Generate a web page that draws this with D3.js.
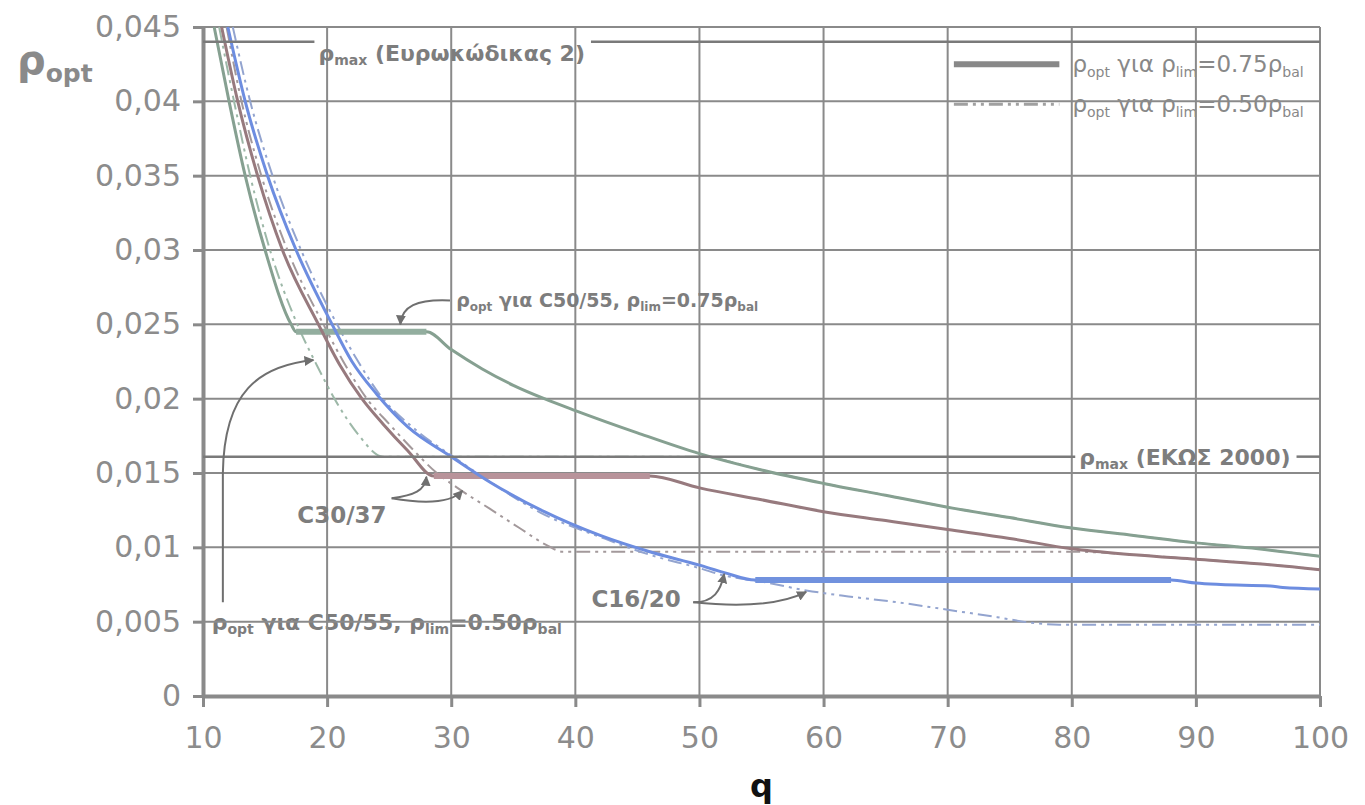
<!DOCTYPE html>
<html>
<head>
<meta charset="utf-8">
<script src="https://cdn.jsdelivr.net/npm/d3@7"></script>
<style>
  body { margin: 0; background: #fff; }
  text { font-family: "DejaVu Sans", Verdana, sans-serif; }
</style>
</head>
<body>
<svg id="chart" width="1365" height="805"></svg>
<script>
  // axis ticks
  const qTicks = [10, 20, 30, 40, 50, 60, 70, 80, 90, 100];
  const rhoTicks = [0, 0.005, 0.01, 0.015, 0.02, 0.025, 0.03, 0.035, 0.04, 0.045];
  const rhoTickLabels = ['0', '0,005', '0,01', '0,015', '0,02', '0,025', '0,03', '0,035', '0,04', '0,045'];

  // reinforcement limits
  const rhoMaxEC2 = 0.044;
  const rhoMaxEKOS = 0.0161;

  // rho_opt for rho_lim = 0.75 rho_bal  [q, rho]
  const c5055_075 = [[10.9, 0.045], [12.1, 0.040], [13.4, 0.035], [15.0, 0.030], [17.1, 0.025], [17.5, 0.0245],
    [28.0, 0.0245], [30, 0.0233], [32.5, 0.0220], [35, 0.0209], [37.5, 0.0200], [40, 0.0192], [45, 0.0177],
    [50, 0.0163], [55, 0.0152], [60, 0.0143], [65, 0.0135], [70, 0.0127], [75, 0.0120], [80, 0.0113],
    [85, 0.0108], [90, 0.0103], [95, 0.0099], [100, 0.0094]];
  const c3037_075 = [[11.5, 0.045], [12.8, 0.040], [14.4, 0.035], [16.4, 0.030], [19.3, 0.025], [21, 0.0223],
    [22.8, 0.0200], [24.5, 0.0183], [26.5, 0.0165], [28.6, 0.0148], [46, 0.0148], [50, 0.0140], [55, 0.0132],
    [60, 0.0124], [65, 0.0118], [70, 0.0112], [75, 0.0106], [80, 0.0099], [85, 0.0095], [90, 0.0092],
    [95, 0.0089], [100, 0.0085]];
  const c1620_075 = [[12.0, 0.045], [13.4, 0.040], [15.2, 0.035], [17.5, 0.030], [20.4, 0.025], [22, 0.0225],
    [24, 0.0203], [26.5, 0.0181], [30, 0.0161], [33.1, 0.0144], [37.5, 0.0124], [42, 0.0108], [46, 0.0097],
    [50, 0.0088], [52, 0.0083], [54.5, 0.0078], [88, 0.0078], [90, 0.0076], [92, 0.0075], [96, 0.0074],
    [97, 0.0073], [100, 0.0072]];

  // rho_opt for rho_lim = 0.50 rho_bal  [q, rho]
  const c5055_050 = [[11.3, 0.045], [12.5, 0.040], [13.8, 0.035], [15.4, 0.030], [17.6, 0.025], [19.2, 0.0222],
    [20.8, 0.0197], [22.5, 0.0176], [24.5, 0.0161], [50, 0.0161], [55, 0.0152], [60, 0.0143], [65, 0.0135],
    [70, 0.0127], [75, 0.0120], [80, 0.0113], [85, 0.0108], [90, 0.0103], [95, 0.0099], [100, 0.0094]];
  const c3037_050 = [[11.9, 0.045], [13.1, 0.040], [14.7, 0.035], [16.8, 0.030], [19.7, 0.025], [21.3, 0.0225],
    [23.2, 0.0200], [25, 0.0183], [27, 0.0165], [28.7, 0.0151], [30.5, 0.0140], [33.1, 0.0126], [35.5, 0.0113],
    [37.8, 0.0101], [39, 0.0097], [80.5, 0.0097], [85, 0.0095], [90, 0.0092], [95, 0.0089], [100, 0.0085]];
  const c1620_050 = [[12.4, 0.045], [13.8, 0.040], [15.6, 0.035], [17.9, 0.030], [20.8, 0.025], [22.5, 0.0225],
    [24.4, 0.0201], [27, 0.0180], [30.5, 0.0159], [33.5, 0.0142], [37.5, 0.0122], [42, 0.0107], [46, 0.0095],
    [50, 0.0086], [52, 0.0081], [55, 0.0077], [58.6, 0.0071], [62, 0.0067], [66, 0.0063], [70, 0.0058],
    [74, 0.0053], [77, 0.0049], [79, 0.0048], [100, 0.0048]];

  const solidSeries = [
    { data: c5055_075, color: '#86a091', flat: '#93ae9f' },
    { data: c3037_075, color: '#977a7e', flat: '#b8939a' },
    { data: c1620_075, color: '#6d8de0', flat: '#7192de' },
  ];
  const dashSeries = [
    { data: c5055_050, color: '#9db8a8' },
    { data: c3037_050, color: '#a3999b' },
    { data: c1620_050, color: '#93a4cf' },
  ];

  const svg = d3.select('#chart');
  const x = d3.scaleLinear().domain([10, 100]).range([203, 1320]);
  const y = d3.scaleLinear().domain([0, 0.045]).range([696, 27]);
  const grey = '#8a8a8a';
  const ink = '#7d7d7d';

  const defs = svg.append('defs');
  defs.append('marker')
    .attr('id', 'arr')
    .attr('viewBox', '0 0 10 10')
    .attr('refX', 9).attr('refY', 5)
    .attr('markerWidth', 5).attr('markerHeight', 5)
    .attr('orient', 'auto')
    .append('path').attr('d', 'M0,0L10,5L0,10z').attr('fill', '#6f6f6f');

  // text with subscripts: parts = [[str, isSub], ...]
  function rich(sel, parts, size, weight) {
    const t = sel.append('text').attr('font-size', size).attr('font-weight', weight || 'normal');
    let shifted = 0;
    parts.forEach(([str, sub]) => {
      const span = t.append('tspan').text(str);
      const want = sub ? Math.round(size * 0.2) : 0;
      if (want !== shifted) { span.attr('dy', want - shifted); shifted = want; }
      if (sub) span.attr('font-size', Math.round(size * 0.62));
    });
    return t;
  }

  // --- things that the grid strikes through go first
  const under = svg.append('g').attr('fill', ink);
  rich(under, [['ρ'], ['opt', true], [' για C50/55, ρ'], ['lim', true], ['=0.50ρ'], ['bal', true]], 22, 'bold')
    .attr('x', x(10.7)).attr('y', y(0.0050) + 8);

  const legend = svg.append('g').attr('fill', '#888');
  legend.append('line')
    .attr('x1', x(70.5)).attr('x2', x(79)).attr('y1', y(0.0425)).attr('y2', y(0.0425))
    .attr('stroke', '#888').attr('stroke-width', 6);
  legend.append('line')
    .attr('x1', x(70.5)).attr('x2', x(79)).attr('y1', y(0.0398)).attr('y2', y(0.0398))
    .attr('stroke', '#a0a0a0').attr('stroke-width', 3).attr('stroke-dasharray', '14,5,3,5,3,5');
  rich(legend, [['ρ'], ['opt', true], [' για ρ'], ['lim', true], ['=0.75ρ'], ['bal', true]], 23)
    .attr('x', x(80.05)).attr('y', y(0.0425) + 8);
  rich(legend, [['ρ'], ['opt', true], [' για ρ'], ['lim', true], ['=0.50ρ'], ['bal', true]], 23)
    .attr('x', x(80.05)).attr('y', y(0.0398) + 8);

  // --- grid
  const grid = svg.append('g').attr('stroke', grey).attr('stroke-width', 2);
  grid.selectAll('line.h').data(rhoTicks.slice(1)).join('line')
    .attr('class', 'h')
    .attr('x1', x(10)).attr('x2', x(100))
    .attr('y1', d => y(d)).attr('y2', d => y(d));
  grid.selectAll('line.v').data(qTicks.slice(1)).join('line')
    .attr('class', 'v')
    .attr('x1', d => x(d)).attr('x2', d => x(d))
    .attr('y1', y(0)).attr('y2', y(0.045));

  // --- axes
  const yAxis = svg.append('g')
    .attr('transform', `translate(${x(10)},0)`)
    .call(d3.axisLeft(y).tickValues(rhoTicks).tickFormat((d, i) => rhoTickLabels[i]).tickSize(10).tickSizeOuter(0).tickPadding(12));
  const xAxis = svg.append('g')
    .attr('transform', `translate(0,${y(0)})`)
    .call(d3.axisBottom(x).tickValues(qTicks).tickSize(11).tickSizeOuter(0).tickPadding(20));
  [xAxis, yAxis].forEach(a => {
    a.select('.domain').attr('stroke', grey).attr('stroke-width', 4);
    a.selectAll('.tick line').attr('stroke', grey).attr('stroke-width', 3);
    a.selectAll('.tick text').attr('fill', '#8c8c8c').attr('font-size', 30)
      .attr('font-family', '"DejaVu Sans", Verdana, sans-serif');
  });

  // --- curves
  const line = d3.line().x(d => x(d[0])).y(d => y(d[1])).curve(d3.curveMonotoneX);
  const curves = svg.append('g').attr('fill', 'none');
  dashSeries.forEach(s => {
    curves.append('path').datum(s.data).attr('d', line)
      .attr('stroke', s.color).attr('stroke-width', 2).attr('stroke-dasharray', '14,5,3,5,3,5');
  });
  solidSeries.forEach(s => {
    curves.append('path').datum(s.data).attr('d', line)
      .attr('stroke', s.color).attr('stroke-width', 3);
    // flat stretch where rho = rho_lim, drawn heavier
    for (let i = 0; i < s.data.length - 1; i++) {
      if (s.data[i][1] === s.data[i + 1][1]) {
        curves.append('path').datum([s.data[i], s.data[i + 1]]).attr('d', line)
          .attr('stroke', s.flat).attr('stroke-width', 6);
      }
    }
  });

  // --- rho_max lines, broken by their labels
  const notes = svg.append('g').attr('fill', ink);
  function maxLine(rho, parts, qText, side) {
    const t = rich(notes, parts, 22, 'bold').attr('x', x(qText)).attr('y', y(rho) + side);
    const bb = t.node().getBBox();
    const segs = [[x(10), bb.x - 4], [bb.x + bb.width + 6, x(100)]];
    segs.forEach(([a, b]) => {
      svg.append('line').attr('x1', a).attr('x2', b).attr('y1', y(rho)).attr('y2', y(rho))
        .attr('stroke', '#7a7a7a').attr('stroke-width', 2.5);
    });
  }
  maxLine(rhoMaxEC2, [['ρ'], ['max', true], [' (Ευρωκώδικας 2)']], 19.3, 19);
  maxLine(rhoMaxEKOS, [['ρ'], ['max', true], [' (ΕΚΩΣ 2000)']], 80.6, 8);

  // --- annotations
  rich(notes, [['ρ'], ['opt', true], [' για C50/55, ρ'], ['lim', true], ['=0.75ρ'], ['bal', true]], 19, 'bold')
    .attr('x', x(30.4)).attr('y', y(0.0266) + 6);
  rich(notes, [['C30/37']], 23, 'bold').attr('x', x(17.6)).attr('y', y(0.0122) + 8);
  rich(notes, [['C16/20']], 23, 'bold').attr('x', x(41.3)).attr('y', y(0.0065) + 8);

  const arrows = [
    [[29.9, 0.0266], [27.2, 0.0267], [26.0, 0.0262], [25.9, 0.0250]],
    [[25.2, 0.0133], [27.0, 0.0135], [27.9, 0.0138], [28.0, 0.01475]],
    [[25.2, 0.0133], [28.0, 0.0129], [30.0, 0.0130], [30.9, 0.0138]],
    [[49.5, 0.0063], [51.2, 0.0063], [51.7, 0.0071], [52.0, 0.0082]],
    [[49.5, 0.0063], [53.0, 0.0060], [56.5, 0.0061], [58.6, 0.0070]],
  ];
  const arrowG = svg.append('g').attr('fill', 'none').attr('stroke', '#6f6f6f').attr('stroke-width', 2);
  arrows.forEach(a => {
    const p = d3.path();
    p.moveTo(x(a[0][0]), y(a[0][1]));
    p.bezierCurveTo(x(a[1][0]), y(a[1][1]), x(a[2][0]), y(a[2][1]), x(a[3][0]), y(a[3][1]));
    arrowG.append('path').attr('d', p.toString()).attr('marker-end', 'url(#arr)');
  });
  // long leader from the 0.50 C50/55 label
  const lead = d3.path();
  lead.moveTo(x(11.6), y(0.0063));
  lead.lineTo(x(11.6), y(0.0150));
  lead.bezierCurveTo(x(11.7), y(0.0205), x(14.5), y(0.0222), x(18.9), y(0.0226));
  arrowG.append('path').attr('d', lead.toString()).attr('marker-end', 'url(#arr)');

  // --- axis titles
  rich(svg.append('g').attr('fill', '#8a8a8a'), [['ρ'], ['opt', true]], 40, 'bold')
    .attr('x', 17).attr('y', 74);
  svg.append('text')
    .attr('x', (x(10) + x(100)) / 2).attr('y', 797)
    .attr('text-anchor', 'middle')
    .attr('font-size', 32).attr('font-weight', 'bold').attr('fill', '#111')
    .text('q');
</script>
</body>
</html>
